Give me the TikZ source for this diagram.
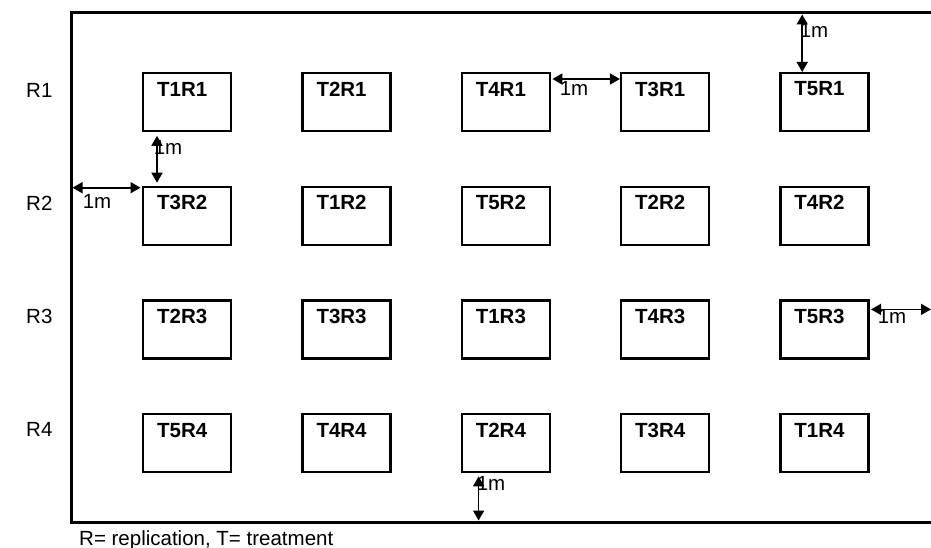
\documentclass[tikz,border=0pt]{standalone}
\usepackage{fontspec}
\setmainfont{Liberation Sans}
\usetikzlibrary{arrows.meta,calc}
\begin{document}
\begin{tikzpicture}[x=1pt,y=-1pt,
  frame/.style={line width=3pt},
  plotbox/.style={draw, line width=2.3pt, minimum width=88pt, minimum height=58pt, inner sep=0pt, anchor=north west},
  plotlbl/.style={font=\fontsize{20.5}{24}\selectfont\bfseries, inner sep=0pt, anchor=west},
  txt/.style={font=\fontsize{20.5}{24}\selectfont, inner sep=0pt},
  dim/.style={line width=1.7pt, {Triangle[width=11pt,length=10pt]}-{Triangle[width=11pt,length=10pt]}}
]
\useasboundingbox (0,0) rectangle (931,548);
% field frame
\coordinate (TL) at (71,13);
\coordinate (TR) at (931,13);
\coordinate (BL) at (71,522);
\coordinate (BR) at (931,522);
\draw[frame] (TR) -- (TL) -- (BL) -- (BR);
% row labels
\node[txt, anchor=west] (R1) at (26,90) {R1};
\node[txt, anchor=west] (R2) at (26,203) {R2};
\node[txt, anchor=west] (R3) at (26,316) {R3};
\node[txt, anchor=west] (R4) at (26,429) {R4};
% plots
\foreach \name/\c/\r in {T1R1/1/1, T2R1/2/1, T4R1/3/1, T3R1/4/1, T5R1/5/1,
                         T3R2/1/2, T1R2/2/2, T5R2/3/2, T2R2/4/2, T4R2/5/2,
                         T2R3/1/3, T3R3/2/3, T1R3/3/3, T4R3/4/3, T5R3/5/3,
                         T5R4/1/4, T4R4/2/4, T2R4/3/4, T3R4/4/4, T1R4/5/4}{
  \node[plotbox] (\name) at ({142+159.3*(\c-1)},{72+113.7*(\r-1)}) {};
  \node[plotlbl] (\name-l) at ($(\name.north west)+(15,17)$) {\name};
}
% distance arrows
\draw[dim] ([xshift=15pt,yshift=-3.5pt]T1R1.south west) -- ([xshift=15pt,yshift=3pt]T3R2.north west);
\node[txt] (d1) at (168,147) {1m};
\coordinate (L2) at ($(TL |- T3R2.north west)+(0,2)$);
\draw[dim] ([xshift=1.5pt]L2) -- ([xshift=-1.5pt]T3R2.west |- L2);
\node[txt] (d2) at (97,201) {1m};
\draw[dim] ([xshift=1.5pt,yshift=-7pt]T4R1.north east) -- ([yshift=-7pt]T3R1.north west);
\node[txt] (d3) at (574,88) {1m};
\coordinate (T5) at ([xshift=23pt]T5R1.north west);
\draw[dim] ([yshift=-1.5pt]T5 |- TL) -- (T5);
\node[txt] (d4) at (814,30) {1m};
\coordinate (R5) at ([xshift=1.5pt,yshift=-10pt]T5R3.north east);
\draw[dim] (R5) -- (R5 -| TR);
\node[txt] (d5) at (892,316) {1m};
\coordinate (B3) at ([xshift=18pt,yshift=-3pt]T2R4.south west);
\draw[dim] (B3) -- ([yshift=1.5pt]B3 |- BL);
\node[txt] (d6) at (491,483) {1m};
% legend
\node[txt, anchor=base west] (legend) at (79,545) {R= replication, T= treatment};
\end{tikzpicture}
\end{document}
